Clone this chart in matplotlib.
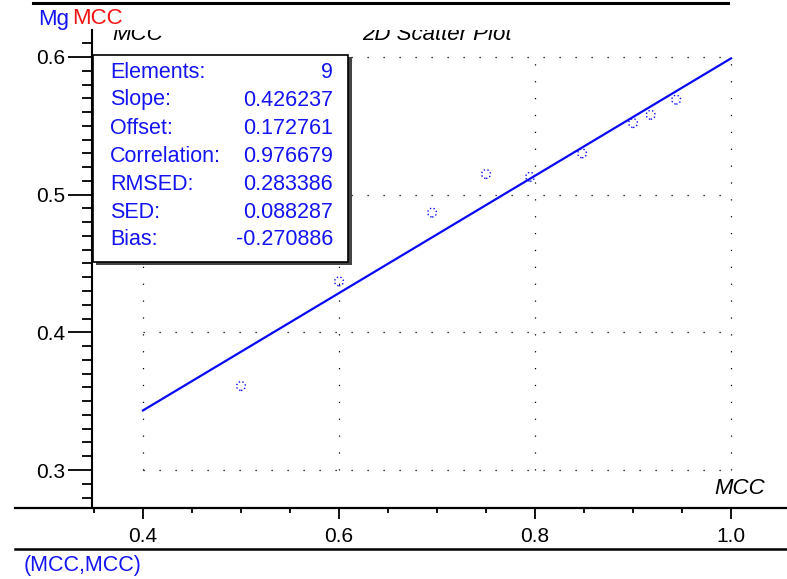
import numpy as np
import matplotlib
matplotlib.use('Agg')
from matplotlib import pyplot as plt
from matplotlib.lines import Line2D
from matplotlib.patches import Rectangle

plt.rcParams['font.family'] = ['Liberation Sans', 'DejaVu Sans']

# data
x_vals = [0.50, 0.60, 0.695, 0.75, 0.795, 0.848, 0.90, 0.918, 0.944]
y_vals = [0.361, 0.437, 0.487, 0.515, 0.513, 0.530, 0.552, 0.558, 0.569]
slope = 0.426237
offset = 0.172761
fit_x = [0.4, 1.0]
x_ticks = [0.4, 0.6, 0.8, 1.0]
y_ticks = [0.3, 0.4, 0.5, 0.6]
stat_names = ['Elements:', 'Slope:', 'Offset:', 'Correlation:', 'RMSED:', 'SED:', 'Bias:']
stat_values = ['9', '0.426237', '0.172761', '0.976679', '0.283386', '0.088287', '-0.270886']

W, H = 787, 579
fig = plt.figure(figsize=(W / 100, H / 100), dpi=100)


def fx(px):
    return px / W


def fy(py):
    return 1 - py / H


ax = fig.add_axes([fx(92), fy(508), 1 - fx(92), fy(30) - fy(508)])
ax.set_xlim(0.348, 1.0571)
ax.set_ylim(0.2724, 0.6196)
for s in ['top', 'right', 'bottom']:
    ax.spines[s].set_visible(False)
ax.spines['left'].set_linewidth(1.5)

# dotted grid only inside the tick range
for xv in x_ticks:
    ax.plot([xv, xv], [y_ticks[0], y_ticks[-1]], color='black', lw=0.9,
            linestyle=(0, (1, 12.5)), zorder=1)
for yv in y_ticks:
    ax.plot([x_ticks[0], x_ticks[-1]], [yv, yv], color='black', lw=0.9,
            linestyle=(0, (1, 11.8)), zorder=1)

fit_y = [slope * v + offset for v in fit_x]
ax.plot(fit_x, fit_y, color='#0a0af5', lw=1.6, zorder=3)
ax.scatter(x_vals, y_vals, s=40, marker='o', facecolors='none',
           edgecolors='#0a0af5', linewidths=1.0, linestyle=':', zorder=4)

ax.set_xticks(x_ticks)
ax.set_xticklabels(['%.1f' % v for v in x_ticks])
ax.set_xticks(np.arange(0.35, 1.02, 0.05), minor=True)
ax.set_yticks(y_ticks)
ax.set_yticklabels(['%.1f' % v for v in y_ticks])
ax.set_yticks(np.arange(0.28, 0.62, 0.01), minor=True)
ax.tick_params(axis='x', which='major', direction='out', length=8, width=1.3,
               labelsize=15, pad=6)
ax.tick_params(axis='x', which='minor', direction='out', length=3.5, width=1.3)
ax.tick_params(axis='y', which='major', direction='out', length=17, width=1.3,
               labelsize=15, pad=2)
ax.tick_params(axis='y', which='minor', direction='out', length=7.5, width=1.3)

# axis lines drawn across the figure
fig.add_artist(Line2D([fx(15), 1], [fy(508), fy(508)], color='black', lw=1.6))
fig.add_artist(Line2D([fx(15), 1], [fy(549), fy(549)], color='black', lw=1.8))
fig.add_artist(Line2D([fx(33), fx(728)], [fy(3), fy(3)], color='black', lw=2.2))

# statistics box
fig.add_artist(Rectangle((fx(96), fy(265)), fx(350) - fx(94), fy(57) - fy(265),
                         facecolor='#444444', edgecolor='none', zorder=5))
fig.add_artist(Rectangle((fx(93), fy(262)), fx(348) - fx(93), fy(55) - fy(262),
                         facecolor='white', edgecolor='black', lw=1.2, zorder=6))
for i, (nm, vl) in enumerate(zip(stat_names, stat_values)):
    yy = fy(72 + i * 28)
    fig.text(fx(110), yy, nm, color='#1414f0', fontsize=15.5, va='center',
             ha='left', zorder=7)
    fig.text(fx(333), yy, vl, color='#1414f0', fontsize=15.5, va='center',
             ha='right', zorder=7)

# header texts, cut off at the top as in the source window
for txt, px in [('MCC', 112), ('2D Scatter Plot', 362)]:
    fig.text(fx(px), fy(34), txt, fontsize=16, style='italic',
             va='center', ha='left', zorder=3)
fig.add_artist(Rectangle((fx(100), fy(30)), fx(620) - fx(100), fy(6) - fy(30),
                         facecolor='white', edgecolor='none', zorder=4))

fig.text(fx(38), fy(19), 'Mg', color='#1414f0', fontsize=16, va='center',
         zorder=8)
fig.text(fx(72), fy(19), 'MCC', color='#f01414', fontsize=16, va='center',
         zorder=8)

fig.text(fx(765), fy(488), 'MCC', fontsize=16, style='italic', va='center',
         ha='right')
fig.text(fx(24), fy(566), '(MCC,MCC)', color='#1414f0', fontsize=15.5,
         va='center', ha='left')

fig.savefig('out.png', dpi=100)
